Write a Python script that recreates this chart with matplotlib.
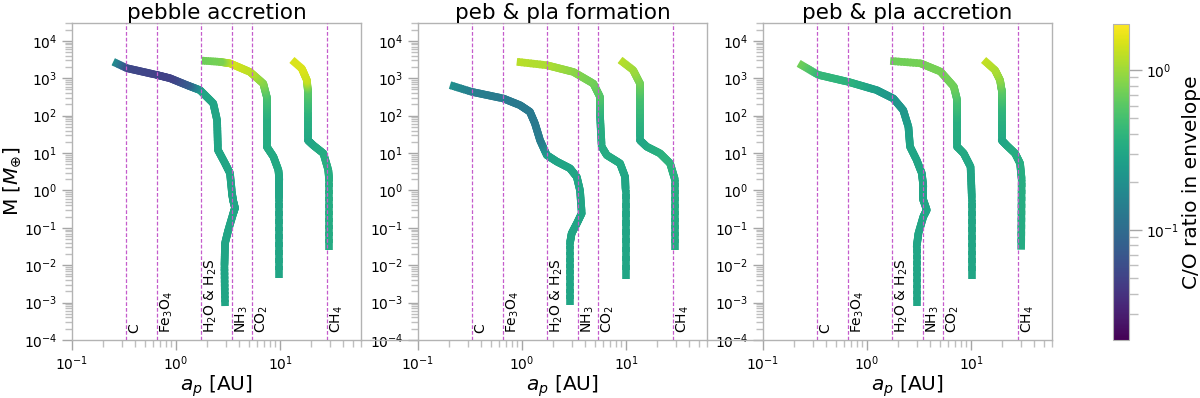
import numpy as np
import matplotlib
matplotlib.use("Agg")
import matplotlib.pyplot as plt
from matplotlib.colors import LogNorm
from matplotlib.collections import LineCollection
from matplotlib.cm import ScalarMappable
from matplotlib.ticker import LogLocator, NullFormatter
from matplotlib.lines import Line2D

# ---------------- data ----------------
titles = ["pebble accretion", "peb & pla formation", "peb & pla accretion"]

ice_names = ["C", "Fe$_3$O$_4$", "H$_2$O & H$_2$S", "NH$_3$", "CO$_2$", "CH$_4$"]
ice_lines_au = [0.33, 0.655, 1.74, 3.45, 5.35, 28.5]

# panel 1 : pebble accretion  (a [AU], M [M_earth], C/O in envelope)
p1_a_A = [2.96, 2.92, 2.96, 3.18, 3.56, 3.69, 3.53, 3.45, 3.30, 2.96, 2.53, 2.48, 2.28, 1.70, 1.27, 0.875, 0.65, 0.336, 0.249]
p1_m_A = [8.1e-4, 8.9e-3, 0.039, 0.087, 0.25, 0.34, 0.55, 0.85, 2.9, 5.3, 12, 76, 213, 480, 655, 1000, 1230, 1860, 2760]
p1_c_A = [0.3, 0.3, 0.3, 0.3, 0.3, 0.3, 0.3, 0.3, 0.3, 0.3, 0.3, 0.3, 0.3, 0.3, 0.08, 0.05, 0.05, 0.055, 0.2]

p1_a_B = [9.84, 9.84, 9.84, 9.64, 8.63, 7.45, 7.45, 7.45, 6.9, 5.15, 3.3, 2.6, 1.77]
p1_m_B = [0.0045, 0.55, 1.9, 3.5, 8.0, 14.8, 100, 318, 720, 1470, 2500, 2750, 2960]
p1_c_B = [0.3, 0.3, 0.3, 0.32, 0.32, 0.33, 0.36, 0.5, 0.8, 1.2, 1.45, 0.75, 0.7]

p1_a_C = [29.6, 29.6, 29.1, 26.1, 20.9, 18.5, 18.5, 18.5, 18.1, 16.2, 13.0]
p1_m_C = [0.026, 1.9, 3.5, 9.8, 16, 22, 120, 475, 890, 1810, 3080]
p1_c_C = [0.33, 0.34, 0.35, 0.35, 0.32, 0.3, 0.38, 0.6, 1.3, 1.5, 1.5]

# panel 2 : peb & pla formation
p2_a_A = [2.89, 2.89, 3.0, 3.36, 3.75, 3.61, 3.36, 2.89, 2.16, 1.73, 1.49, 1.33, 1.19, 0.957, 0.66, 0.328, 0.203]
p2_m_A = [8.7e-4, 0.039, 0.071, 0.13, 0.245, 1.0, 2.3, 3.9, 5.9, 8.8, 22, 62, 127, 190, 288, 433, 655]
p2_c_A = [0.3, 0.3, 0.3, 0.3, 0.3, 0.3, 0.3, 0.3, 0.3, 0.28, 0.14, 0.13, 0.13, 0.13, 0.13, 0.14, 0.2]

p2_a_B = [9.9, 9.9, 9.8, 8.75, 6.52, 5.83, 5.62, 5.62, 4.85, 3.12, 1.73, 0.89]
p2_m_B = [0.0043, 1.02, 2.3, 5.3, 8.8, 14.8, 100, 318, 720, 1470, 2230, 2750]
p2_c_B = [0.3, 0.3, 0.3, 0.32, 0.33, 0.33, 0.36, 0.55, 0.7, 0.85, 1.1, 1.2]

p2_a_C = [29.6, 29.6, 26.5, 21.2, 15.8, 13.6, 13.6, 13.6, 11.7, 8.75]
p2_m_C = [0.026, 1.9, 5.3, 9.8, 14.8, 22, 300, 725, 1650, 3080]
p2_c_C = [0.33, 0.35, 0.38, 0.38, 0.34, 0.3, 0.5, 0.7, 1.0, 1.2]

# panel 3 : peb & pla accretion
p3_a_A = [3.0, 3.0, 3.12, 3.48, 3.75, 3.48, 3.48, 3.36, 3.0, 2.59, 2.5, 2.23, 1.79, 1.24, 0.66, 0.34, 0.22]
p3_m_A = [8.1e-4, 0.031, 0.071, 0.2, 0.3, 0.55, 1.26, 2.9, 6.5, 14.8, 50, 140, 288, 480, 800, 1230, 2500]
p3_c_A = [0.3, 0.3, 0.3, 0.3, 0.3, 0.3, 0.3, 0.3, 0.3, 0.3, 0.27, 0.23, 0.22, 0.25, 0.38, 0.42, 0.75]

p3_a_B = [10.2, 10.2, 9.89, 8.5, 7.35, 7.35, 7.35, 6.82, 5.08, 3.26, 1.67]
p3_m_B = [0.0043, 0.55, 4.3, 9.8, 14.8, 80, 263, 600, 1510, 2510, 2900]
p3_c_B = [0.3, 0.3, 0.3, 0.32, 0.32, 0.36, 0.5, 0.7, 0.75, 0.75, 0.7]

p3_a_C = [30.3, 30.7, 29.6, 26.5, 22, 19.7, 19.7, 19.7, 19.0, 17.0, 13.2]
p3_m_C = [0.026, 1.9, 5.3, 9.8, 16, 22, 150, 475, 890, 1650, 3080]
p3_c_C = [0.33, 0.35, 0.35, 0.35, 0.33, 0.3, 0.4, 0.6, 0.85, 1.1, 1.3]

panels = [
    [(p1_a_A, p1_m_A, p1_c_A), (p1_a_B, p1_m_B, p1_c_B), (p1_a_C, p1_m_C, p1_c_C)],
    [(p2_a_A, p2_m_A, p2_c_A), (p2_a_B, p2_m_B, p2_c_B), (p2_a_C, p2_m_C, p2_c_C)],
    [(p3_a_A, p3_m_A, p3_c_A), (p3_a_B, p3_m_B, p3_c_B), (p3_a_C, p3_m_C, p3_c_C)],
]

co_min, co_max = 0.0205, 1.94

# ---------------- drawing ----------------
cmap = plt.get_cmap("viridis")
norm = LogNorm(vmin=co_min, vmax=co_max)
LW = 5.5


def draw_track(ax, a, m, co, nsub=10):
    la, lm, lc = np.log10(a), np.log10(m), np.log10(co)
    nseg = len(a) - 1
    for i in range(nseg):
        t0 = np.linspace(0, 1, nsub + 1)
        # each piece overlaps the next slightly so no hairline gaps appear
        tend = t0[1:].copy()
        tend[:-1] += 0.6 / nsub
        tsta = t0[:-1]
        x0 = 10 ** (la[i] + (la[i + 1] - la[i]) * tsta)
        y0 = 10 ** (lm[i] + (lm[i + 1] - lm[i]) * tsta)
        x1 = 10 ** (la[i] + (la[i + 1] - la[i]) * tend)
        y1 = 10 ** (lm[i] + (lm[i + 1] - lm[i]) * tend)
        cs = 10 ** (lc[i] + (lc[i + 1] - lc[i]) * (t0[:-1] + t0[1:]) / 2)
        segs = [[(x0[k], y0[k]), (x1[k], y1[k])] for k in range(nsub)]
        cap = "butt" if i in (0, nseg - 1) else "round"
        coll = LineCollection(segs, cmap=cmap, norm=norm, linewidths=LW,
                              capstyle=cap, zorder=2)
        coll.set_array(cs)
        ax.add_collection(coll)


fig = plt.figure(figsize=(12, 3.98), dpi=100)
W, H = 1200, 398
lefts = [72, 418, 763]
ax_w, ax_b, ax_h = 289, 58, 317
axes = []
for i, left in enumerate(lefts):
    ax = fig.add_axes([left / W, ax_b / H, ax_w / W, ax_h / H])
    axes.append(ax)
    ax.set_xscale("log")
    ax.set_yscale("log")
    ax.set_xlim(0.1, 60)
    ax.set_ylim(1e-4, 3e4)
    for tr in panels[i]:
        draw_track(ax, *tr)
    for xl, nm in zip(ice_lines_au, ice_names):
        ax.axvline(xl, color="#c55ccc", lw=0.9, dashes=(3, 1.6), zorder=3)
        ax.text(xl * 1.03, 1.55e-4, nm, rotation=90, ha="left", va="bottom",
                fontsize=10, zorder=4)
    ax.set_title(titles[i], fontsize=15.5, pad=2)
    ax.set_xlabel("$a_p$ [AU]", fontsize=14.5, labelpad=0)
    ax.yaxis.set_major_locator(LogLocator(base=10, numticks=20))
    ax.yaxis.set_minor_locator(LogLocator(base=10, subs=np.arange(2, 10), numticks=100))
    ax.yaxis.set_minor_formatter(NullFormatter())
    ax.xaxis.set_major_locator(LogLocator(base=10, numticks=20))
    ax.xaxis.set_minor_locator(LogLocator(base=10, subs=np.arange(2, 10), numticks=100))
    ax.xaxis.set_minor_formatter(NullFormatter())
    ax.tick_params(which="major", length=7, width=1, color="0.65", labelsize=10)
    ax.tick_params(which="minor", length=5, width=1, color="0.75")
    for sp in ax.spines.values():
        sp.set_color("0.7")
        sp.set_linewidth(1.0)

axes[0].set_ylabel("M [$M_{\\oplus}$]", fontsize=14.5, labelpad=1)

# thin base line between panels
for l0, l1 in [(72 + 289, 418), (418 + 289, 763)]:
    fig.add_artist(Line2D([l0 / W, l1 / W], [ax_b / H, ax_b / H], color="0.7", lw=1.0))

cax = fig.add_axes([1113 / W, ax_b / H, 16 / W, 316 / H])
cb = fig.colorbar(ScalarMappable(norm=norm, cmap=cmap), cax=cax)
cb.set_label("C/O ratio in envelope", fontsize=14.5, labelpad=2)
cb.outline.set_edgecolor("0.7")
cax.tick_params(which="major", length=9, width=1, color="0.65", labelsize=10)
cax.tick_params(which="minor", length=6.5, width=1, color="0.75")

fig.savefig("out.png", dpi=100)
